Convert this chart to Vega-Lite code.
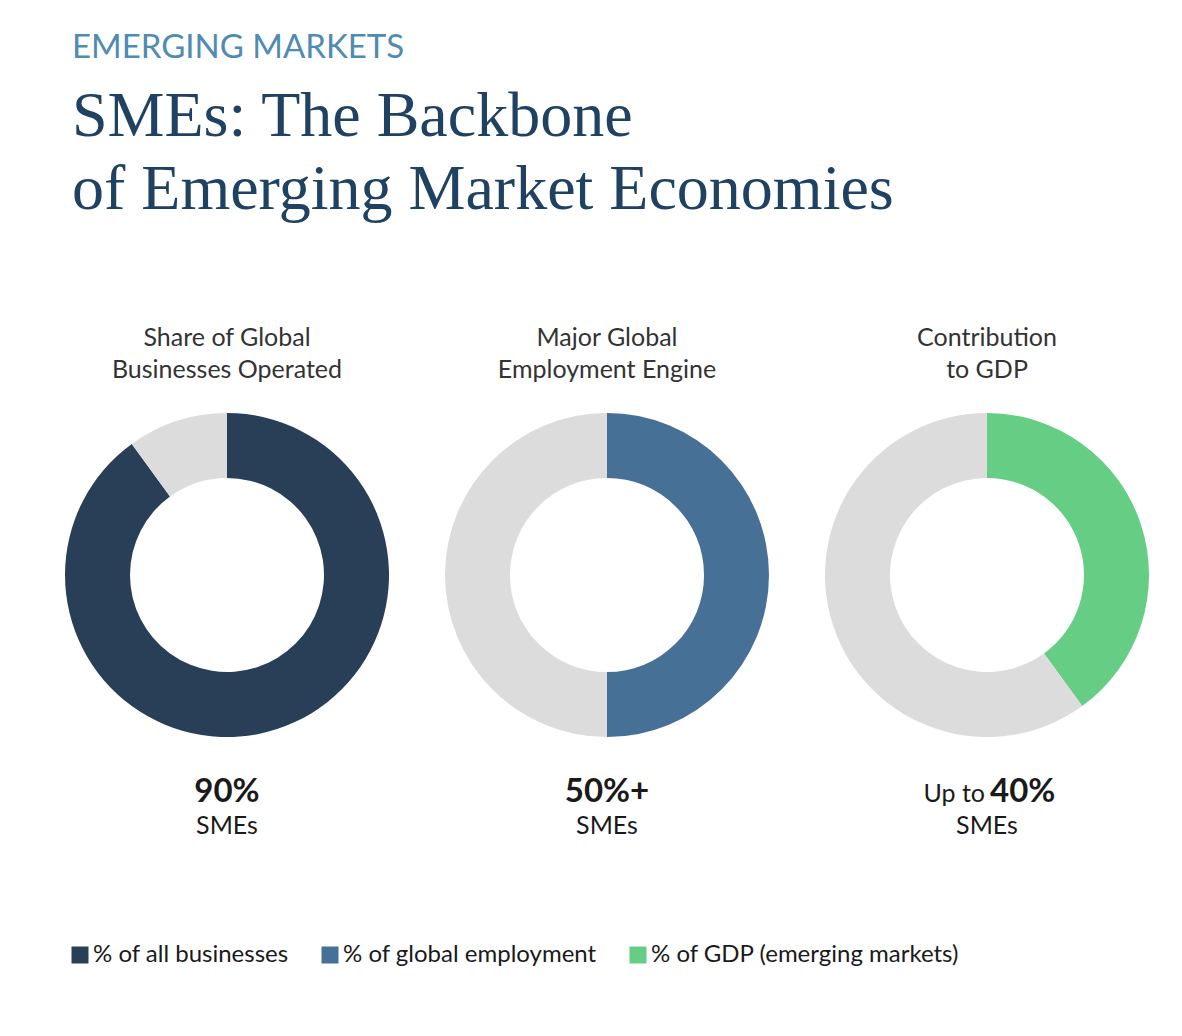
{
  "$schema": "https://vega.github.io/schema/vega-lite/v6.json",
  "background": "white",
  "padding": {"left": 37, "top": 32, "right": 5, "bottom": 5},
  "title": {
    "text": "EMERGING MARKETS",
    "subtitle": ["SMEs: The Backbone", "of Emerging Market Economies"],
    "anchor": "start",
    "dx": 35,
    "font": "Lato",
    "fontSize": 33,
    "fontWeight": "normal",
    "color": "#4f8bb2",
    "subtitleFont": "Liberation Serif",
    "subtitleFontSize": 64,
    "subtitleColor": "#1f4262",
    "subtitleLineHeight": 73,
    "subtitlePadding": 20,
    "offset": 104
  },
  "datasets": {
    "shares": [
      {"panel": "A", "category": "% of all businesses", "value": 90, "ord": 1},
      {"panel": "A", "category": "Other", "value": 10, "ord": 2},
      {"panel": "B", "category": "% of global employment", "value": 50, "ord": 1},
      {"panel": "B", "category": "Other", "value": 50, "ord": 2},
      {"panel": "C", "category": "% of GDP (emerging markets)", "value": 40, "ord": 1},
      {"panel": "C", "category": "Other", "value": 60, "ord": 2}
    ],
    "labels": [
      {"panel": "A", "part": "big", "line": 1, "text": "90%"},
      {"panel": "A", "part": "sub", "line": 2, "text": "SMEs"},
      {"panel": "B", "part": "big", "line": 1, "text": "50%+"},
      {"panel": "B", "part": "sub", "line": 2, "text": "SMEs"},
      {"panel": "C", "part": "pre", "line": 1, "text": "Up to"},
      {"panel": "C", "part": "big", "line": 1, "text": "40%"},
      {"panel": "C", "part": "sub", "line": 2, "text": "SMEs"}
    ]
  },
  "vconcat": [
    {
      "spacing": 0,
      "hconcat": [
        {
          "title": {"text": ["Share of Global", "Businesses Operated"]},
          "width": 380,
          "height": 340,
          "data": {"name": "shares"},
          "transform": [{"filter": "datum.panel === 'A'"}],
          "mark": {"type": "arc", "innerRadius": 97, "outerRadius": 162},
          "encoding": {
            "theta": {"field": "value", "type": "quantitative", "stack": true},
            "order": {"field": "ord", "type": "quantitative"},
            "color": {
              "field": "category",
              "type": "nominal",
              "scale": {"domain": ["% of all businesses", "% of global employment", "% of GDP (emerging markets)", "Other"], "range": ["#283f57", "#467096", "#66cd84", "#dcdcdc"]},
              "legend": {
                "orient": "none",
                "legendX": 31,
                "legendY": 538,
                "direction": "horizontal",
                "title": null,
                "values": ["% of all businesses", "% of global employment", "% of GDP (emerging markets)"]
              }
            }
          }
        },
        {
          "title": {"text": ["Major Global", "Employment Engine"]},
          "width": 380,
          "height": 340,
          "data": {"name": "shares"},
          "transform": [{"filter": "datum.panel === 'B'"}],
          "mark": {"type": "arc", "innerRadius": 97, "outerRadius": 162},
          "encoding": {
            "theta": {"field": "value", "type": "quantitative", "stack": true},
            "order": {"field": "ord", "type": "quantitative"},
            "color": {"field": "category", "type": "nominal"}
          }
        },
        {
          "title": {"text": ["Contribution", "to GDP"]},
          "width": 380,
          "height": 340,
          "data": {"name": "shares"},
          "transform": [{"filter": "datum.panel === 'C'"}],
          "mark": {"type": "arc", "innerRadius": 97, "outerRadius": 162},
          "encoding": {
            "theta": {"field": "value", "type": "quantitative", "stack": true},
            "order": {"field": "ord", "type": "quantitative"},
            "color": {"field": "category", "type": "nominal"}
          }
        }
      ]
    },
    {
      "spacing": 0,
      "hconcat": [
        {
          "width": 380,
          "height": 64,
          "data": {"name": "labels"},
          "transform": [{"filter": "datum.panel === 'A'"}],
          "encoding": {
            "y": {"field": "line", "type": "ordinal", "axis": null, "scale": {"type": "point", "padding": 0.5}},
            "text": {"field": "text"}
          },
          "layer": [
            {"transform": [{"filter": "datum.part === 'big'"}], "mark": {"type": "text", "fontWeight": "bold", "fontSize": 33, "baseline": "alphabetic"}},
            {"transform": [{"filter": "datum.part === 'sub'"}], "mark": {"type": "text", "fontSize": 25, "baseline": "alphabetic"}}
          ]
        },
        {
          "width": 380,
          "height": 64,
          "data": {"name": "labels"},
          "transform": [{"filter": "datum.panel === 'B'"}],
          "encoding": {
            "y": {"field": "line", "type": "ordinal", "axis": null, "scale": {"type": "point", "padding": 0.5}},
            "text": {"field": "text"}
          },
          "layer": [
            {"transform": [{"filter": "datum.part === 'big'"}], "mark": {"type": "text", "fontWeight": "bold", "fontSize": 33, "baseline": "alphabetic"}},
            {"transform": [{"filter": "datum.part === 'sub'"}], "mark": {"type": "text", "fontSize": 25, "baseline": "alphabetic"}}
          ]
        },
        {
          "width": 380,
          "height": 64,
          "data": {"name": "labels"},
          "transform": [{"filter": "datum.panel === 'C'"}],
          "encoding": {
            "y": {"field": "line", "type": "ordinal", "axis": null, "scale": {"type": "point", "padding": 0.5}},
            "text": {"field": "text"}
          },
          "layer": [
            {"transform": [{"filter": "datum.part === 'pre'"}], "mark": {"type": "text", "fontSize": 25, "baseline": "alphabetic", "align": "right", "dx": -2}},
            {"transform": [{"filter": "datum.part === 'big'"}], "mark": {"type": "text", "fontWeight": "bold", "fontSize": 33, "baseline": "alphabetic", "align": "left", "dx": 3}},
            {"transform": [{"filter": "datum.part === 'sub'"}], "mark": {"type": "text", "fontSize": 25, "baseline": "alphabetic"}}
          ]
        }
      ]
    }
  ],
  "spacing": 31,
  "resolve": {"scale": {"color": "shared"}},
  "config": {
    "view": {"stroke": null},
    "font": "Lato",
    "text": {"font": "Lato", "color": "#1a1a1a"},
    "title": {"font": "Lato", "fontSize": 25, "fontWeight": "normal", "color": "#333333", "lineHeight": 32, "offset": 22},
    "legend": {
      "symbolType": "square",
      "symbolSize": 289,
      "symbolStrokeWidth": 0,
      "symbolOpacity": 1,
      "labelFont": "Lato",
      "labelFontSize": 24,
      "labelColor": "#1a1a1a",
      "labelOffset": 1,
      "labelLimit": 400,
      "columnPadding": 29
    }
  }
}
